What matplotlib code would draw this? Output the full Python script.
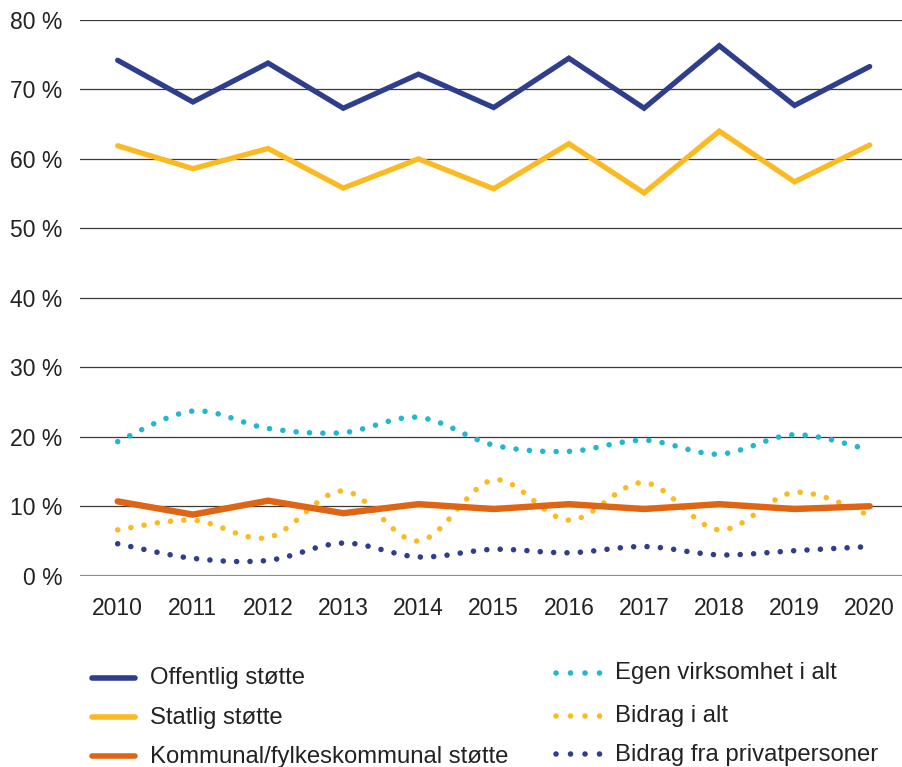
import numpy as np
import matplotlib
matplotlib.use("Agg")
import matplotlib.pyplot as plt
from matplotlib.path import Path
from matplotlib.patches import PathPatch
from matplotlib.lines import Line2D

plt.rcParams['font.family'] = ['Liberation Sans', 'DejaVu Sans']

years = [2010, 2011, 2012, 2013, 2014, 2015, 2016, 2017, 2018, 2019, 2020]
offentlig = [74.2, 68.2, 73.8, 67.3, 72.2, 67.4, 74.5, 67.3, 76.3, 67.7, 73.3]
statlig = [61.9, 58.6, 61.5, 55.8, 60.0, 55.7, 62.2, 55.1, 64.0, 56.7, 62.0]
kommunal = [10.7, 8.8, 10.8, 9.0, 10.3, 9.6, 10.3, 9.6, 10.3, 9.6, 10.0]
egen = [19.3, 23.7, 21.2, 20.6, 22.8, 18.8, 17.9, 19.5, 17.5, 20.3, 18.1]
bidrag = [6.6, 8.0, 5.5, 12.2, 5.0, 13.8, 8.0, 13.4, 6.6, 12.0, 8.7]
privat = [4.6, 2.5, 2.2, 4.7, 2.7, 3.8, 3.3, 4.2, 3.0, 3.6, 4.2]
yticks = [0, 10, 20, 30, 40, 50, 60, 70, 80]

C_NAVY = '#2E3E8C'
C_YEL = '#FBBA21'
C_ORA = '#DF6514'
C_CYAN = '#22B6CF'
TXT = '#222222'
DOTS = (0, (0.01, 2.4))

W, H = 903, 767
fig = plt.figure(figsize=(W / 100, H / 100), dpi=100)
ax = fig.add_axes([80 / W, 1 - 575.7 / H, (903 - 80) / W, (575.7 - 20) / H])
ax.set_xlim(2009.499, 2020.443)
ax.set_ylim(0, 80)

for v in yticks[1:]:
    ax.axhline(v, color='#3a3a3a', lw=0.9, zorder=1)
ax.axhline(0, color='#8c8c8c', lw=1.6, zorder=1)

for s in ax.spines.values():
    s.set_visible(False)
ax.set_yticks(yticks)
ax.set_yticklabels([f'{v} %' for v in yticks])
ax.set_xticks(years)
ax.set_xticklabels([str(y) for y in years])
ax.tick_params(axis='both', length=0, labelsize=16.5, colors=TXT)
ax.tick_params(axis='y', pad=12.5)
ax.tick_params(axis='x', pad=15)


def smooth_patch(x, y, color):
    # smoothed line drawn as cubic Bezier through the data points
    x = np.asarray(x, float)
    y = np.asarray(y, float)
    n = len(x)
    verts = [(x[0], y[0])]
    codes = [Path.MOVETO]
    t = 1 / 6
    for i in range(n - 1):
        p0 = (x[i - 1], y[i - 1]) if i > 0 else (x[i], y[i])
        p1 = (x[i], y[i])
        p2 = (x[i + 1], y[i + 1])
        p3 = (x[i + 2], y[i + 2]) if i + 2 < n else p2
        c1 = (p1[0] + (p2[0] - p0[0]) * t, p1[1] + (p2[1] - p0[1]) * t)
        c2 = (p2[0] - (p3[0] - p1[0]) * t, p2[1] - (p3[1] - p1[1]) * t)
        verts += [c1, c2, p2]
        codes += [Path.CURVE4] * 3
    patch = PathPatch(Path(verts, codes), facecolor='none', edgecolor=color,
                      lw=4.0, linestyle=DOTS, zorder=3)
    patch.set_capstyle('round')
    ax.add_patch(patch)


smooth_patch(years, egen, C_CYAN)
smooth_patch(years, bidrag, C_YEL)
smooth_patch(years, privat, C_NAVY)

ax.plot(years, offentlig, color=C_NAVY, lw=3.8, solid_joinstyle='miter', solid_capstyle='round', zorder=4)
ax.plot(years, statlig, color=C_YEL, lw=3.8, solid_joinstyle='miter', solid_capstyle='round', zorder=4)
ax.plot(years, kommunal, color=C_ORA, lw=4.6, solid_joinstyle='miter', solid_capstyle='round', zorder=4)

# Legend (manual layout): (label, colour, line y, text baseline y)
left_items = [('Offentlig støtte', C_NAVY, 678, 684),
              ('Statlig støtte', C_YEL, 717, 724),
              ('Kommunal/fylkeskommunal støtte', C_ORA, 756, 763)]
right_items = [('Egen virksomhet i alt', C_CYAN, 673, 679),
               ('Bidrag i alt', C_YEL, 716, 722),
               ('Bidrag fra privatpersoner', C_NAVY, 754, 761)]
for label, col, ly, ty in left_items:
    fy = 1 - ly / H
    fig.add_artist(Line2D([92 / W, 135 / W], [fy, fy], color=col, lw=4.0,
                          solid_capstyle='round', transform=fig.transFigure))
    fig.text(150 / W, 1 - ty / H, label, fontsize=17.2, va='baseline', ha='left', color=TXT)
for label, col, ly, ty in right_items:
    fy = 1 - ly / H
    fig.add_artist(Line2D([556 / W, 600 / W], [fy, fy], color=col, lw=4.0,
                          linestyle=(0, (0.01, 2.6)), dash_capstyle='round',
                          transform=fig.transFigure))
    fig.text(615 / W, 1 - ty / H, label, fontsize=17.2, va='baseline', ha='left', color=TXT)

fig.savefig('out.png', dpi=100)
